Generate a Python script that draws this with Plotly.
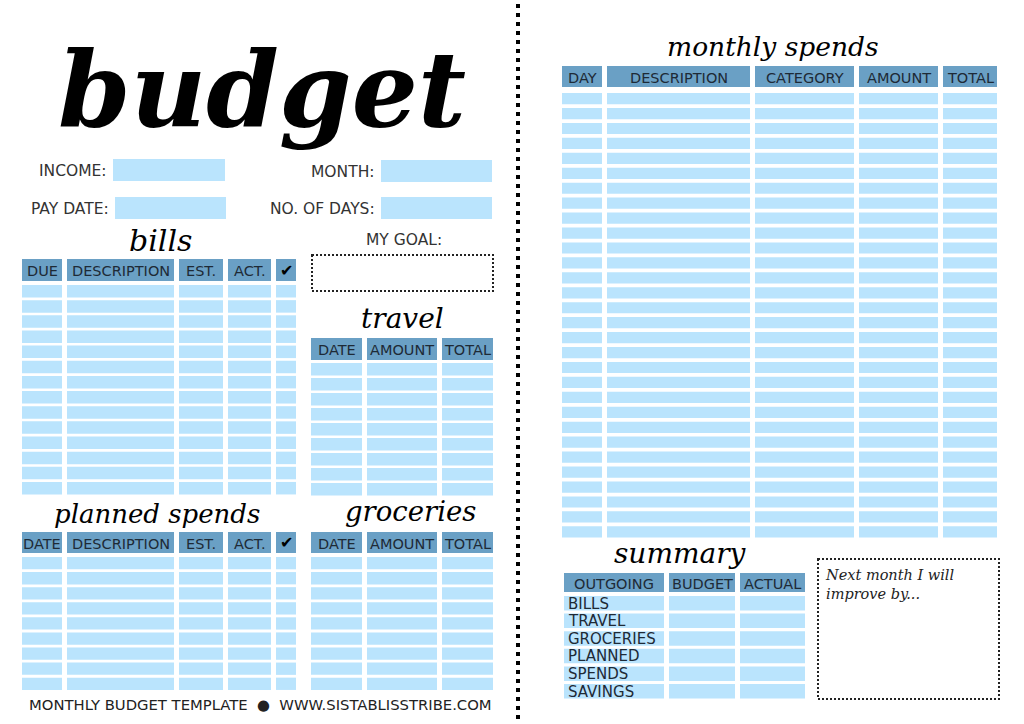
import plotly.graph_objects as go

# ---- content of the template ----
bills_cols = ["DUE", "DESCRIPTION", "EST.", "ACT.", "✔"]
planned_cols = ["DATE", "DESCRIPTION", "EST.", "ACT.", "✔"]
travel_cols = ["DATE", "AMOUNT", "TOTAL"]
groceries_cols = ["DATE", "AMOUNT", "TOTAL"]
monthly_cols = ["DAY", "DESCRIPTION", "CATEGORY", "AMOUNT", "TOTAL"]
summary_cols = ["OUTGOING", "BUDGET", "ACTUAL"]
summary_rows = ["BILLS", "TRAVEL", "GROCERIES", "PLANNED", "SPENDS", "SAVINGS"]
field_labels = ["INCOME:", "PAY DATE:", "MONTH:", "NO. OF DAYS:"]
footer_text = "MONTHLY BUDGET TEMPLATE  ●  WWW.SISTABLISSTRIBE.COM"
note_text = "Next month I will<br>improve by..."

HEAD = "#6aa0c5"
CELL = "#bae4fd"
INK = "#1e2a36"
SANS = "DejaVu Sans"
SCRIPT = "DejaVu Serif"

fig = go.Figure()
shapes = []
ann = []


def rect(x0, y0, x1, y1, color, line=None):
    d = dict(type="rect", xref="x", yref="y", x0=x0, y0=y0, x1=x1, y1=y1,
             fillcolor=color, layer="below")
    d["line"] = line if line else dict(width=0)
    shapes.append(d)


def text(x, y, s, size=13, color=INK, font=SANS, anchor="center", yanchor="middle", **kw):
    ann.append(dict(x=x, y=y, xref="x", yref="y", text=s, showarrow=False,
                    xanchor=anchor, yanchor=yanchor, align="left",
                    font=dict(family=font, size=size, color=color, **kw)))


def table(cols, edges, head, first, pitch, height, nrows, size=14.5):
    for name, (a, b) in zip(cols, edges):
        rect(a, head[0], b, head[1], HEAD)
        if name == "✔":
            text((a + b) / 2, (head[0] + head[1]) / 2, name, size=16, color="black")
        else:
            text((a + b) / 2, (head[0] + head[1]) / 2 + 1, name, size=size)
        for r in range(nrows):
            y0 = first + r * pitch
            rect(a, y0, b, y0 + height, CELL)


left_edges = [(22, 62), (67, 174), (179, 223), (228, 271), (276, 296)]
three_edges = [(311, 362), (367, 437), (442, 493)]
summary_edges = [(564, 664), (669, 735), (740, 805)]

table(bills_cols, left_edges, (259, 281), 285, 15.15, 12.5, 14)
table(travel_cols, three_edges, (338, 360), 363, 15.0, 12.5, 9)
table(planned_cols, left_edges, (532, 553), 557, 15.08, 12.3, 9)
table(groceries_cols, three_edges, (532, 553), 557, 15.08, 12.3, 9)
table(monthly_cols, [(562, 602), (607, 750), (755, 854), (859, 938), (943, 997)],
      (66, 87), 93, 14.94, 11.2, 30)
table(summary_cols, summary_edges, (573, 592), 596, 17.6, 14.5, 0)
for r, lab in enumerate(summary_rows):
    y0 = 596 + r * 17.6
    for a, b in summary_edges:
        rect(a, y0, b, y0 + 14.5, CELL)
    text(566, y0 + 7.5, lab, size=15, anchor="left")

# header fields
fields = [(113, 225, 159, 181), (115, 226, 197, 219), (381, 492, 160, 182), (381, 492, 197, 219)]
for lab, (a, b, t, btm) in zip(field_labels, fields):
    rect(a, t, b, btm, CELL)
    text(a - 4, (t + btm) / 2 + 1, lab, size=15.5, color="#333333", anchor="right")

# dotted boxes and divider
dots = dict(color="#222222", width=2, dash="2px,2px")
rect(312, 255, 493, 291, "rgba(0,0,0,0)", dots)
rect(818, 559, 999, 699, "rgba(0,0,0,0)", dots)
shapes.append(dict(type="line", xref="x", yref="y", x0=518, x1=518, y0=4, y1=722,
                   line=dict(color="black", width=4, dash="4px,5px")))

text(404, 240, "MY GOAL:", size=15.5, color="#333333")

# script headings
text(262, 90, "budget", size=104, color="black", font=SCRIPT, style="italic", weight="bold")
text(160, 240, "bills", size=30, color="black", font=SCRIPT, style="italic")
text(402, 318, "travel", size=28, color="black", font=SCRIPT, style="italic")
text(157, 514, "planned spends", size=26, color="black", font=SCRIPT, style="italic")
text(410, 511, "groceries", size=27.5, color="black", font=SCRIPT, style="italic")
text(773, 46, "monthly spends", size=26.5, color="black", font=SCRIPT, style="italic")
text(680, 553, "summary", size=28, color="black", font=SCRIPT, style="italic")
text(823, 565, note_text, size=14.5, color="#222222", font=SCRIPT,
     anchor="left", yanchor="top", style="italic")

text(260, 704, footer_text, size=14.8, color="#222222")

fig.update_layout(
    width=1024, height=724, margin=dict(l=0, r=0, t=0, b=0),
    paper_bgcolor="white", plot_bgcolor="white", showlegend=False,
    xaxis=dict(range=[0, 1024], visible=False, fixedrange=True),
    yaxis=dict(range=[724, 0], visible=False, fixedrange=True),
    shapes=shapes, annotations=ann,
)

fig.write_html("out.html", config={"displayModeBar": False},
               post_script="document.body.style.margin='0';document.body.style.overflow='hidden';")
